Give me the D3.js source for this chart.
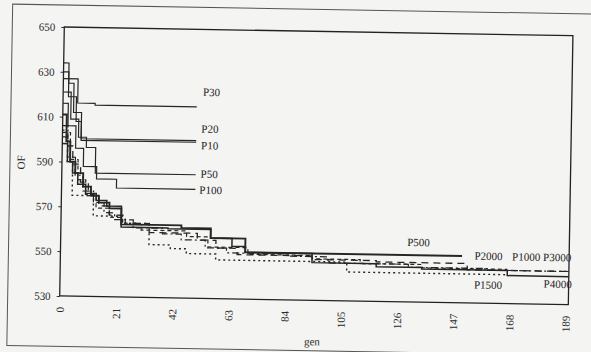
<!DOCTYPE html>
<html>
<head>
<meta charset="utf-8">
<script src="https://cdn.jsdelivr.net/npm/d3@7"></script>
<style>
  html, body { margin: 0; padding: 0; background: #f4f4f2; }
  svg { display: block; font-family: 'Liberation Serif', 'DejaVu Serif', serif; }
</style>
</head>
<body>
<svg id="chart" width="591" height="352"></svg>
<script>
const xTicks = [0, 21, 42, 63, 84, 105, 126, 147, 168, 189];
const yTicks = [530, 550, 570, 590, 610, 630, 650];

// best OF per run, [gen, value]
const p10 = [[0, 634], [2, 625], [4, 612], [7, 599.6], [50, 599.6]];
const p20 = [[0, 630], [2, 619], [5, 608], [7, 600.3], [50, 600.3]];
const p30 = [[0, 627], [5.5, 616.2], [12, 615.4], [50, 615.4]];
const p50 = [[0, 621], [3, 609], [6, 601], [9, 596.5], [12.5, 585.1], [50, 585.1]];
const p100 = [[0, 616], [2, 606], [5, 596], [8, 588], [13, 582.5], [20.5, 578.6], [50, 578.6]];
const p500 = [[0, 611], [1.5, 599], [3, 590], [5, 585], [8, 579], [11, 575], [14, 572], [18, 569.5],
  [22.5, 562.4], [45, 561.3], [56, 557], [69, 550.9], [150, 550.9]];
const p1000 = [[0, 606], [2, 597], [4, 589], [7, 581], [10, 575], [14, 570.5], [18, 566.5], [24, 563],
  [33, 559], [51, 556], [58, 552.6], [66, 549.8], [94, 548.2], [118, 547.6], [152, 544.8], [190, 544.8]];
const p1500 = [[0, 604], [2, 590], [4, 575], [12, 566], [23, 563], [33, 553.6], [41, 552], [47, 549.9],
  [58, 547.3], [107, 542.9], [167, 542.9]];
const p2000 = [[0, 603], [3, 591], [6, 582], [9, 575.5], [13, 569.5], [18, 565.5], [23, 562.5], [30, 560],
  [47, 557.5], [55, 553], [70, 550], [94, 548.5], [112, 546.8], [135, 545.3], [167, 545.3]];
const p3000 = [[0, 601], [2, 592], [5, 584], [8, 577], [12, 572], [16, 567.5], [20, 564.5], [27, 561],
  [38, 558.5], [45, 556], [54, 552.6], [62, 550.5], [85, 549.5], [100, 546.8], [130, 545.5], [160, 544.8], [190, 544.8]];
const p4000 = [[0, 598], [2, 590], [4, 585], [6, 580], [9, 576], [13, 573], [17, 570.5], [22.5, 561.2],
  [40, 560.8], [56, 557], [64, 553.5], [69, 550.9], [94, 546.8], [118, 545.5], [135, 544.8], [167, 542.5], [190, 542.5]];

const series = [
  { name: 'P10', values: p10 },
  { name: 'P20', values: p20 },
  { name: 'P30', values: p30 },
  { name: 'P50', values: p50 },
  { name: 'P100', values: p100 },
  { name: 'P500', values: p500 },
  { name: 'P1000', values: p1000 },
  { name: 'P1500', values: p1500 },
  { name: 'P2000', values: p2000 },
  { name: 'P3000', values: p3000 },
  { name: 'P4000', values: p4000 }
];

const styles = {
  P10: { w: 1.2, dash: null }, P20: { w: 1.2, dash: null }, P30: { w: 1.2, dash: null },
  P50: { w: 1.2, dash: null }, P100: { w: 1.2, dash: null }, P500: { w: 1.9, dash: null },
  P1000: { w: 1.3, dash: '7,5' }, P1500: { w: 1.4, dash: '2,3' }, P2000: { w: 1.2, dash: '4,3' },
  P3000: { w: 1.2, dash: '7,3,2,3' }, P4000: { w: 1.5, dash: null }
};
// label position relative to the run's last point (px)
const labelOffsets = {
  P10: [5, 3], P20: [5, -12], P30: [6, -15], P50: [5, -1], P100: [4, 0.5],
  P500: [-55, -13], P1000: [-57, -14], P1500: [-33, 10.5], P2000: [-33, -13],
  P3000: [-26, -14], P4000: [-25, 7.5]
};

const plotLeft = 62, plotTop = 27, plotRight = 570.7, plotBottom = 296;

const svg = d3.select('#chart');
// the scanned page sits slightly askew
const g = svg.append('g').attr('transform', 'rotate(0.98,62,161)');

g.append('rect')
  .attr('x', 10).attr('y', 5).attr('width', 640).attr('height', 341.5)
  .attr('fill', 'none').attr('stroke', '#555').attr('stroke-width', 1);

const x = d3.scaleLinear().domain([0, 190]).range([plotLeft, plotRight]);
const y = d3.scaleLinear().domain([530, 650]).range([plotBottom, plotTop]);

const yAxis = g.append('g')
  .attr('transform', `translate(${plotLeft},0)`)
  .call(d3.axisLeft(y).tickValues(yTicks).tickSize(3).tickPadding(6));
yAxis.select('.domain').remove();
yAxis.selectAll('line').attr('stroke', '#333');
yAxis.selectAll('text').attr('font-size', 11).attr('fill', '#2a2a2a')
  .style('font-family', "'Liberation Serif', serif");

const xAxis = g.append('g')
  .attr('transform', `translate(0,${plotBottom})`)
  .call(d3.axisBottom(x).tickValues(xTicks).tickSize(0));
xAxis.select('.domain').remove();
xAxis.selectAll('text')
  .attr('transform', 'rotate(-90)')
  .attr('x', -11).attr('y', 0).attr('dy', '0.35em')
  .style('text-anchor', 'end')
  .attr('font-size', 11).attr('fill', '#2a2a2a')
  .style('font-family', "'Liberation Serif', serif");

g.append('rect')
  .attr('x', plotLeft).attr('y', plotTop)
  .attr('width', plotRight - plotLeft).attr('height', plotBottom - plotTop)
  .attr('fill', 'none').attr('stroke', '#222').attr('stroke-width', 1.3);

const line = d3.line()
  .curve(d3.curveStepAfter)
  .x((d) => x(d[0]))
  .y((d) => y(d[1]));

g.append('g').selectAll('path')
  .data(series)
  .enter().append('path')
  .attr('d', (d) => line(d.values))
  .attr('fill', 'none')
  .attr('stroke', '#262626')
  .attr('stroke-width', (d) => styles[d.name].w)
  .attr('stroke-dasharray', (d) => styles[d.name].dash);

g.append('g').selectAll('text')
  .data(series)
  .enter().append('text')
  .attr('x', (d) => x(d.values[d.values.length - 1][0]) + labelOffsets[d.name][0])
  .attr('y', (d) => y(d.values[d.values.length - 1][1]) + labelOffsets[d.name][1])
  .attr('dy', '0.35em')
  .attr('font-size', 11)
  .attr('fill', '#222')
  .text((d) => d.name);

g.append('text')
  .attr('transform', 'translate(21,163) rotate(-90)')
  .attr('text-anchor', 'middle')
  .attr('dy', '0.35em')
  .attr('font-size', 11)
  .attr('fill', '#2a2a2a')
  .text('OF');

g.append('text')
  .attr('x', 315).attr('y', 341)
  .attr('text-anchor', 'middle')
  .attr('font-size', 11)
  .attr('fill', '#2a2a2a')
  .text('gen');
</script>
</body>
</html>
